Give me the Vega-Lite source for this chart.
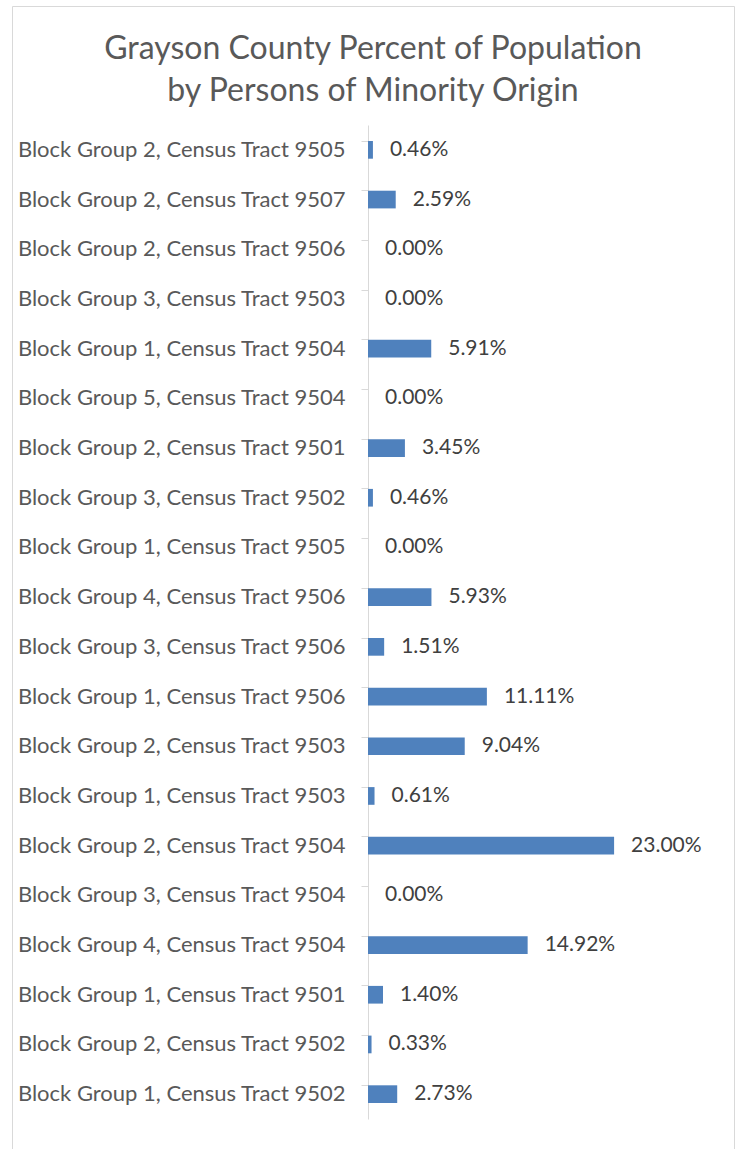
{
  "$schema": "https://vega.github.io/schema/vega-lite/v6.json",
  "autosize": {"type": "none"},
  "padding": {"left": 12, "top": 6, "right": 6, "bottom": 0},
  "width": 722,
  "height": 1143,
  "background": "white",
  "title": {
    "text": ["Grayson County Percent of Population", "by Persons of Minority Origin"],
    "anchor": "middle",
    "frame": "group",
    "offset": -102,
    "font": "Lato",
    "fontSize": 32,
    "fontWeight": "normal",
    "color": "#595959",
    "lineHeight": 42
  },
  "config": {
    "view": {"stroke": "#D9D9D9", "strokeWidth": 1}
  },
  "data": {
    "values": [
      {"area": "Block Group 2, Census Tract 9505", "pct": 0.0046},
      {"area": "Block Group 2, Census Tract 9507", "pct": 0.0259},
      {"area": "Block Group 2, Census Tract 9506", "pct": 0.0},
      {"area": "Block Group 3, Census Tract 9503", "pct": 0.0},
      {"area": "Block Group 1, Census Tract 9504", "pct": 0.0591},
      {"area": "Block Group 5, Census Tract 9504", "pct": 0.0},
      {"area": "Block Group 2, Census Tract 9501", "pct": 0.0345},
      {"area": "Block Group 3, Census Tract 9502", "pct": 0.0046},
      {"area": "Block Group 1, Census Tract 9505", "pct": 0.0},
      {"area": "Block Group 4, Census Tract 9506", "pct": 0.0593},
      {"area": "Block Group 3, Census Tract 9506", "pct": 0.0151},
      {"area": "Block Group 1, Census Tract 9506", "pct": 0.1111},
      {"area": "Block Group 2, Census Tract 9503", "pct": 0.0904},
      {"area": "Block Group 1, Census Tract 9503", "pct": 0.0061},
      {"area": "Block Group 2, Census Tract 9504", "pct": 0.23},
      {"area": "Block Group 3, Census Tract 9504", "pct": 0.0},
      {"area": "Block Group 4, Census Tract 9504", "pct": 0.1492},
      {"area": "Block Group 1, Census Tract 9501", "pct": 0.014},
      {"area": "Block Group 2, Census Tract 9502", "pct": 0.0033},
      {"area": "Block Group 1, Census Tract 9502", "pct": 0.0273}
    ]
  },
  "encoding": {
    "y": {
      "field": "area",
      "type": "nominal",
      "sort": null,
      "scale": {"range": [119, 1113], "paddingInner": 0.644, "paddingOuter": 0.322},
      "axis": {
        "title": null,
        "offset": -356,
        "bandPosition": 0,
        "domainColor": "#D9D9D9",
        "tickColor": "#D9D9D9",
        "tickSize": 7,
        "labelPadding": 16,
        "labelFont": "Lato",
        "labelFontSize": 22,
        "labelColor": "#595959",
        "labelLimit": 400
      }
    },
    "x": {
      "field": "pct",
      "type": "quantitative",
      "scale": {"domain": [0, 0.25], "range": [356, 623.5], "nice": false},
      "axis": null
    }
  },
  "layer": [
    {"mark": {"type": "bar", "color": "#4F81BD"}},
    {
      "mark": {"type": "text", "align": "left", "baseline": "middle", "dx": 17, "font": "Lato", "fontSize": 21, "color": "#404040"},
      "encoding": {"text": {"field": "pct", "type": "quantitative", "format": ".2%"}}
    }
  ]
}
